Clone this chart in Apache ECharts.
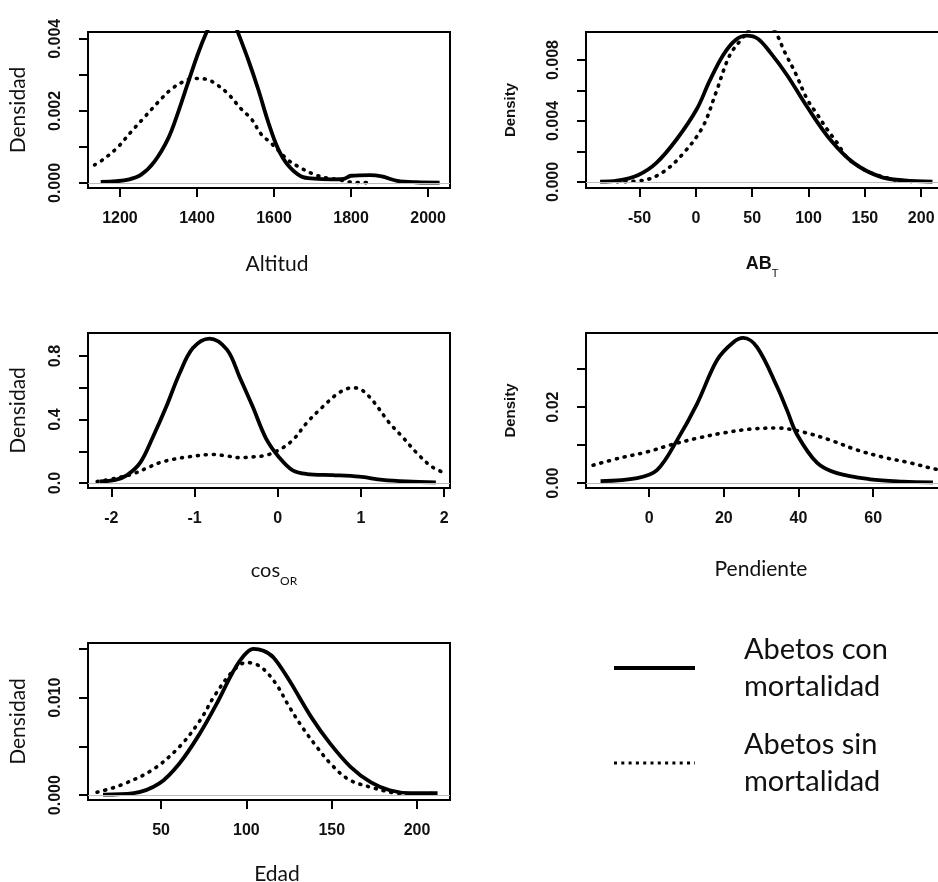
<!DOCTYPE html>
<html>
<head>
<meta charset="utf-8">
<script src="https://cdn.jsdelivr.net/npm/echarts@6/dist/echarts.min.js"></script>
<style>
html, body { margin: 0; padding: 0; background: #fff; }
#main { width: 938px; height: 882px; }
</style>
</head>
<body>
<div id="main"></div>
<script>
// curvas de densidad (x, densidad)
var altConX = [1150, 1190, 1221, 1255, 1290, 1325, 1351, 1377, 1403, 1424, 1445, 1465, 1487, 1507, 1533, 1559, 1585, 1610, 1636, 1671, 1705, 1750, 1780, 1800, 1850, 1880, 1920, 1970, 2030];
var altConY = [0.00003, 0.00005, 0.00009, 0.00023, 0.0006, 0.00123, 0.00196, 0.00279, 0.0036, 0.00416, 0.0046, 0.0048, 0.0047, 0.00416, 0.00342, 0.0026, 0.00169, 0.00096, 0.0005, 0.00018, 0.00012, 0.0001, 0.00011, 0.0002, 0.00022, 0.00018, 0.00006, 0.00002, 0.00001];
var altSinX = [1134, 1160, 1195, 1229, 1264, 1299, 1333, 1368, 1394, 1424, 1450, 1481, 1515, 1541, 1567, 1593, 1636, 1662, 1706, 1740, 1766, 1800, 1840];
var altSinY = [0.0005, 0.00068, 0.001, 0.00142, 0.00183, 0.00224, 0.0026, 0.00283, 0.0029, 0.00288, 0.00274, 0.00247, 0.00205, 0.00178, 0.00135, 0.0011, 0.00064, 0.00046, 0.00023, 0.00013, 0.0001, 0.00002, 0.00001];

var abConX = [-85, -70, -51, -35, -17, 1, 12, 24, 35, 45, 55, 66, 81, 99, 119, 140, 164, 185, 210];
var abConY = [0.00002, 0.00008, 0.00046, 0.00125, 0.0028, 0.0048, 0.0066, 0.0083, 0.0093, 0.0096, 0.0094, 0.0085, 0.007, 0.0049, 0.0028, 0.00125, 0.00033, 0.0001, 0.00002];
var abSinX = [-70, -47, -30, -12, 6, 18, 30, 42, 50, 58, 65, 71, 79, 88, 99, 108, 117, 126, 134, 145, 155, 179, 195];
var abSinY = [0.00001, 0.0001, 0.0006, 0.0018, 0.0036, 0.0059, 0.0083, 0.0095, 0.0102, 0.0105, 0.0103, 0.0098, 0.0085, 0.0072, 0.0054, 0.0044, 0.0034, 0.0025, 0.0016, 0.001, 0.0006, 0.0001, 0.00002];

var cosConX = [-2.14, -1.95, -1.81, -1.65, -1.5, -1.34, -1.18, -1.02, -0.82, -0.61, -0.46, -0.3, -0.14, 0.02, 0.18, 0.35, 0.66, 0.98, 1.26, 1.55, 1.9];
var cosConY = [0.01, 0.02, 0.05, 0.13, 0.29, 0.48, 0.69, 0.85, 0.91, 0.84, 0.67, 0.48, 0.28, 0.16, 0.08, 0.057, 0.05, 0.04, 0.02, 0.01, 0.005];
var cosSinX = [-2.17, -1.95, -1.73, -1.55, -1.41, -1.25, -1.08, -0.78, -0.6, -0.46, -0.3, -0.14, 0.02, 0.18, 0.35, 0.54, 0.74, 0.9, 1.0, 1.14, 1.34, 1.5, 1.67, 1.86, 2.03];
var cosSinY = [0.01, 0.03, 0.06, 0.1, 0.13, 0.15, 0.165, 0.18, 0.17, 0.16, 0.165, 0.175, 0.21, 0.27, 0.38, 0.48, 0.57, 0.6, 0.59, 0.52, 0.38, 0.29, 0.19, 0.1, 0.06];

var penConX = [-13, -3.2, 2.1, 7.5, 12.9, 18.2, 22.5, 25.2, 28.9, 34.3, 37, 39.6, 45, 50.3, 59.2, 68, 76];
var penConY = [0.0005, 0.0013, 0.0034, 0.0113, 0.021, 0.0324, 0.037, 0.0382, 0.0358, 0.0253, 0.019, 0.0128, 0.0053, 0.0026, 0.001, 0.0004, 0.0002];
var penSinX = [-15, -7.8, -0.5, 5.6, 12.9, 19.9, 27.1, 34.3, 41.3, 48.5, 55.7, 62.7, 69.9, 77, 84];
var penSinY = [0.0047, 0.0066, 0.0082, 0.01, 0.0118, 0.0132, 0.0142, 0.0145, 0.0134, 0.0113, 0.0087, 0.0068, 0.0053, 0.0036, 0.0025];

var edaConX = [16, 34, 49, 61, 73, 83, 92, 98, 104, 110, 116, 125, 138, 149, 161, 173, 184, 196, 208, 212];
var edaConY = [0.00005, 0.0002, 0.0012, 0.0033, 0.0064, 0.0095, 0.0126, 0.0142, 0.015, 0.0148, 0.0141, 0.0118, 0.008, 0.0053, 0.0029, 0.0013, 0.0005, 0.0002, 0.0002, 0.0002];
var edaSinX = [12.5, 26, 45, 61, 73, 81, 92, 100, 108, 117, 125, 133, 141, 150, 160, 173, 188, 200, 212];
var edaSinY = [0.0003, 0.001, 0.0026, 0.005, 0.0077, 0.0101, 0.0127, 0.0136, 0.0132, 0.0115, 0.0091, 0.0069, 0.005, 0.0031, 0.0016, 0.0008, 0.0002, 0.0001, 0.0002];

// marcas de los ejes
var altTicks = [1200, 1400, 1600, 1800, 2000];
var abTicks = [-50, 0, 50, 100, 150, 200];
var cosTicks = [-2, -1, 0, 1, 2];
var penTicks = [0, 20, 40, 60];
var edaTicks = [50, 100, 150, 200];
var altYTicks = [0, 0.001, 0.002, 0.003, 0.004];
var altYLabels = [0, 0.002, 0.004];
var abYTicks = [0, 0.002, 0.004, 0.006, 0.008];
var abYLabels = [0, 0.004, 0.008];
var cosYTicks = [0, 0.2, 0.4, 0.6, 0.8];
var cosYLabels = [0, 0.4, 0.8];
var penYTicks = [0, 0.01, 0.02, 0.03];
var penYLabels = [0, 0.02];
var edaYTicks = [0, 0.005, 0.01, 0.015];
var edaYLabels = [0, 0.01];

var nomCon = 'Abetos con mortalidad';
var nomSin = 'Abetos sin mortalidad';

function zip(xs, ys) {
    var out = [];
    for (var i = 0; i < xs.length; i++) out.push([xs[i], ys[i]]);
    return out;
}

var helv = 'Liberation Sans';
var cali = 'Lato';

function rejilla(left, top, width, height) {
    return { left: left, top: top, width: width, height: height, show: true, borderColor: '#000', borderWidth: 2, backgroundColor: '#fff', outerBoundsMode: 'none', containLabel: false };
}

var tickStyle = { show: true, length: 9, lineStyle: { color: '#000', width: 2 } };

function ejeX(gi, min, max, ticks, name, gap, nameStyle) {
    return {
        type: 'value', gridIndex: gi, min: min, max: max,
        axisLine: { show: false, onZero: false },
        axisTick: Object.assign({ customValues: ticks }, tickStyle),
        axisLabel: {
            customValues: ticks, margin: 23, fontFamily: helv, fontWeight: 'bold', fontSize: 16, color: '#111',
            formatter: function (v) { return String(v); }
        },
        splitLine: { show: false },
        name: name, nameLocation: 'middle', nameGap: gap,
        nameTextStyle: nameStyle
    };
}

function ejeY(gi, min, max, ticks, labels, dec, name, gap, nameStyle) {
    return {
        type: 'value', gridIndex: gi, min: min, max: max,
        axisLine: { show: false, onZero: false },
        axisTick: Object.assign({ customValues: ticks }, tickStyle),
        axisLabel: {
            customValues: labels, margin: 24, rotate: 90, align: 'center', verticalAlign: 'bottom',
            fontFamily: helv, fontWeight: 'bold', fontSize: 16, color: '#111',
            formatter: function (v) { return v.toFixed(dec); }
        },
        splitLine: { show: false },
        name: name, nameLocation: 'middle', nameRotate: 90, nameGap: gap,
        nameTextStyle: nameStyle
    };
}

var estiloDens = { fontFamily: cali, fontSize: 21, color: '#111' };
var estiloDensity = { fontFamily: helv, fontWeight: 'bold', fontSize: 15, color: '#111' };
var estiloTitIzq = { fontFamily: cali, fontSize: 21, color: '#111', padding: [0, 0, 0, 16] };
var estiloTitDer = { fontFamily: cali, fontSize: 21, color: '#111', padding: [0, 10, 0, 0] };

function curva(name, xs, ys, gi, punteada) {
    return {
        type: 'line', name: name, xAxisIndex: gi, yAxisIndex: gi,
        data: zip(xs, ys), smooth: 0.35, symbol: 'none', showSymbol: false,
        itemStyle: { color: '#000' },
        lineStyle: punteada ? { color: '#000', width: 3.6, type: [1, 7], cap: 'round' } : { color: '#000', width: 3.8 },
        silent: true
    };
}

function cero(gi) {
    // linea gris en densidad 0
    return {
        type: 'line', xAxisIndex: gi, yAxisIndex: gi, data: [], silent: true,
        markLine: { silent: true, symbol: 'none', label: { show: false }, lineStyle: { color: '#bdbdbd', width: 1, type: 'solid' }, data: [{ yAxis: 0 }] }
    };
}

var myChart = echarts.init(document.getElementById('main'), null, { renderer: 'canvas' });

myChart.setOption({
    animation: false,
    backgroundColor: '#fff',
    grid: [
        rejilla(88, 32, 362, 156),
        rejilla(586, 32, 360, 156),
        rejilla(88, 333, 362, 155),
        rejilla(586, 333, 360, 155),
        rejilla(88, 643, 362, 157)
    ],
    xAxis: [
        ejeX(0, 1117, 2057, altTicks, 'Altitud', 66, estiloTitIzq),
        ejeX(1, -97.5, 222, abTicks, '{b|AB}{s|T}', 67, {
            padding: [0, 8, 0, 0],
            rich: {
                b: { fontFamily: helv, fontWeight: 'bold', fontSize: 18, color: '#111', verticalAlign: 'top', padding: [0, 0, 6, 0] },
                s: { fontFamily: helv, fontSize: 11, color: '#111', verticalAlign: 'bottom' }
            }
        }),
        ejeX(2, -2.28, 2.07, cosTicks, '{b|cos}{s|OR}', 73, {
            padding: [0, 0, 0, 10],
            rich: {
                b: { fontFamily: cali, fontSize: 20, color: '#111', verticalAlign: 'top', padding: [0, 0, 6, 0] },
                s: { fontFamily: cali, fontSize: 12, color: '#111', verticalAlign: 'bottom' }
            }
        }),
        ejeX(3, -16.9, 79.5, penTicks, 'Pendiente', 71, estiloTitDer),
        ejeX(4, 7.2, 219.3, edaTicks, 'Edad', 64, estiloTitIzq)
    ],
    yAxis: [
        ejeY(0, -0.00014, 0.00419, altYTicks, altYLabels, 3, 'Densidad', 59, estiloDens),
        ejeY(1, -0.0004, 0.00984, abYTicks, abYLabels, 3, 'Density', 68, estiloDensity),
        ejeY(2, -0.031, 0.945, cosYTicks, cosYLabels, 1, 'Densidad', 59, estiloDens),
        ejeY(3, -0.0013, 0.0395, penYTicks, penYLabels, 2, 'Density', 68, estiloDensity),
        ejeY(4, -0.0005, 0.0156, edaYTicks, edaYLabels, 3, 'Densidad', 59, estiloDens)
    ],
    legend: {
        orient: 'vertical', left: 607, top: 626,
        itemWidth: 81, itemHeight: 10, itemGap: 21,
        selectedMode: false,
        formatter: function (n) { return n.replace(' mortalidad', '\nmortalidad'); },
        textStyle: { fontFamily: cali, fontSize: 29, lineHeight: 37, color: '#111', padding: [0, 0, 0, 44] },
        data: [
            { name: nomCon, itemStyle: { opacity: 0 }, lineStyle: { color: '#000', width: 4, type: 'solid', opacity: 1 } },
            { name: nomSin, itemStyle: { opacity: 0 }, lineStyle: { color: '#000', width: 3, type: [3, 4.3], cap: 'butt', opacity: 1 } }
        ]
    },
    series: [
        cero(0), cero(1), cero(2), cero(3), cero(4),
        curva(nomSin, altSinX, altSinY, 0, true),
        curva(nomCon, altConX, altConY, 0, false),
        curva(nomSin, abSinX, abSinY, 1, true),
        curva(nomCon, abConX, abConY, 1, false),
        curva(nomSin, cosSinX, cosSinY, 2, true),
        curva(nomCon, cosConX, cosConY, 2, false),
        curva(nomSin, penSinX, penSinY, 3, true),
        curva(nomCon, penConX, penConY, 3, false),
        curva(nomSin, edaSinX, edaSinY, 4, true),
        curva(nomCon, edaConX, edaConY, 4, false)
    ]
});
</script>
</body>
</html>
